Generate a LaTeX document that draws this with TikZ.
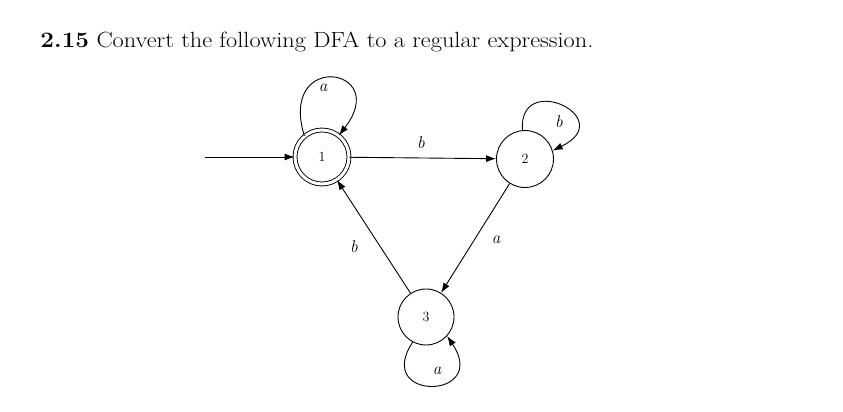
\documentclass[tikz,border=0pt]{standalone}
\usetikzlibrary{arrows.meta}
\begin{document}
\begin{tikzpicture}[x=1pt,y=1pt,
  every path/.style={line width=0.9pt},
  state/.style={draw,circle,inner sep=0pt,minimum size=55pt,font=\fontsize{14}{16}\selectfont},
  accept/.style={state,double,double distance=3pt},
  lbl/.style={font=\fontsize{17}{19}\selectfont\itshape},
  >={Latex[length=10pt,width=7pt]}]
\useasboundingbox (0,0) rectangle (843,412);
\node[anchor=base west,inner sep=0pt,xscale=1.105,transform shape,font=\fontsize{22}{26}\selectfont] (title) at (40,364) {\textbf{2.15} Convert the following DFA to a regular expression.};
\node[accept,minimum size=54pt] (s1) at (322,255) {1};
\node[state,minimum size=57pt] (s2) at (525,253) {2};
\node[state,minimum size=56pt] (s3) at (426,95) {3};
\coordinate (start) at (205,255);
\draw[->] (start) -- (s1);
\draw[->] (s1) -- (s2);
\draw[->] (s2) -- (s3);
\draw[->] (s3) -- (s1);
\draw[->] (s1.130) .. controls (278,362) and (392,345) .. (s1.52);
\draw[->] (s2.95) .. controls (518,342) and (620,294) .. (s2.17);
\draw[->] (s3.242) .. controls (373,10) and (490,12) .. (s3.318);
\node[lbl] (la1) at (323,324) {a};
\node[lbl] (lb12) at (421,269) {b};
\node[lbl] (la23) at (496,172) {a};
\node[lbl] (lb31) at (354,165) {b};
\node[lbl] (lb2) at (559,290) {b};
\node[lbl] (la3) at (437,41) {a};
\end{tikzpicture}
\end{document}
